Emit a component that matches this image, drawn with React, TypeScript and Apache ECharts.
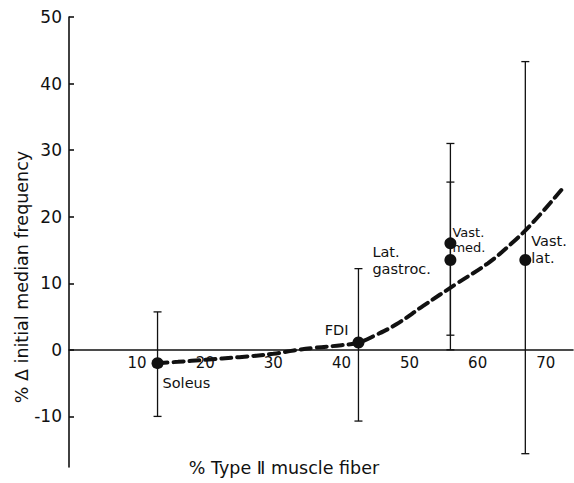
import React, { useEffect, useRef } from "react";
import * as echarts from "echarts";

const muscleNames = ["Soleus", "FDI", "Lat.\ngastroc.", "Vast.\nmed.", "Vast.\nlat."];
const fiberPct = [13, 42.5, 56, 56, 67];
const freqChange = [-2, 1.1, 13.5, 16, 13.5];
const errLow = [-10, -10.7, 2.2, 0, -15.6];
const errHigh = [5.7, 12.2, 25.2, 31, 43.3];

const curveX = [13, 16, 20, 25, 30, 33, 36, 40, 42.5, 45, 48, 52, 57, 61.5, 65, 68, 72.6];
const curveY = [-2, -1.8, -1.5, -1.1, -0.6, -0.1, 0.3, 0.7, 1.1, 2.2, 3.8, 6.6, 10, 13, 16, 19, 24.4];

const xTicks = [10, 20, 30, 40, 50, 60, 70];
const yTicks = [-10, 0, 10, 20, 30, 40, 50];

const labelLayout = [
  { align: "left", offset: [5, 20], lineHeight: 16, fontSize: 14.5 },
  { align: "right", offset: [-10, -13], lineHeight: 16, fontSize: 14.5 },
  { align: "left", offset: [-78, 1], lineHeight: 17, fontSize: 14.5 },
  { align: "left", offset: [2, -3], lineHeight: 15, fontSize: 13 },
  { align: "left", offset: [6, -10], lineHeight: 17, fontSize: 14.5 },
];

const FONT = "DejaVu Sans";
const INK = "#111";

export default function App() {
  const ref = useRef<HTMLDivElement>(null);
  useEffect(() => {
    if (!ref.current) return;
    const chart = echarts.init(ref.current, null, { renderer: "svg" });
    const option: any = {
      animation: false,
      backgroundColor: "#fff",
      grid: { left: 69, right: 1, top: 17, bottom: 16 },
      xAxis: {
        type: "value",
        min: 0,
        max: 74,
        offset: -117.2,
        splitLine: { show: false },
        axisLine: { onZero: false, lineStyle: { color: INK, width: 1.6 } },
        axisTick: { show: false },
        axisLabel: {
          customValues: xTicks,
          margin: 6,
          color: INK,
          fontFamily: FONT,
          fontSize: 15,
        },
      },
      yAxis: {
        type: "value",
        min: -17.6,
        max: 50,
        splitLine: { show: false },
        axisLine: { onZero: false, lineStyle: { color: INK, width: 1.6 } },
        axisTick: {
          customValues: yTicks,
          inside: true,
          length: 5,
          lineStyle: { color: INK, width: 1.6 },
        },
        axisLabel: {
          customValues: yTicks,
          margin: 7,
          color: INK,
          fontFamily: FONT,
          fontSize: 17,
        },
      },
      graphic: [
        {
          type: "text",
          x: 22,
          y: 277,
          rotation: Math.PI / 2,
          style: {
            text: "% Δ initial median frequency",
            fontFamily: FONT,
            fontSize: 17.5,
            fill: INK,
            align: "center",
            verticalAlign: "middle",
          },
        },
        {
          type: "text",
          x: 284,
          y: 468,
          style: {
            text: "% Type Ⅱ muscle fiber",
            fontFamily: FONT,
            fontSize: 17.5,
            fill: INK,
            align: "center",
            verticalAlign: "middle",
          },
        },
      ],
      series: [
        {
          type: "line",
          data: curveX.map((x, i) => [x, curveY[i]]),
          smooth: 0.4,
          showSymbol: false,
          symbol: "none",
          lineStyle: { color: INK, width: 4, type: [10, 6], cap: "round" },
          z: 2,
        },
        {
          type: "custom",
          data: fiberPct.map((x, i) => [x, errLow[i], errHigh[i]]),
          renderItem: (params: any, api: any) => {
            const x = api.value(0);
            const pLo = api.coord([x, api.value(1)]);
            const pHi = api.coord([x, api.value(2)]);
            const w = 4;
            const st = { stroke: INK, lineWidth: 1.3 };
            return {
              type: "group",
              children: [
                { type: "line", shape: { x1: pLo[0], y1: pLo[1], x2: pHi[0], y2: pHi[1] }, style: st },
                { type: "line", shape: { x1: pLo[0] - w, y1: pLo[1], x2: pLo[0] + w, y2: pLo[1] }, style: st },
                { type: "line", shape: { x1: pHi[0] - w, y1: pHi[1], x2: pHi[0] + w, y2: pHi[1] }, style: st },
              ],
            };
          },
          z: 3,
        },
        {
          type: "scatter",
          symbol: "circle",
          symbolSize: 12,
          itemStyle: { color: INK, opacity: 1 },
          data: fiberPct.map((x, i) => ({
            value: [x, freqChange[i]],
            label: {
              show: true,
              formatter: muscleNames[i],
              position: "inside",
              align: labelLayout[i].align,
              verticalAlign: "middle",
              offset: labelLayout[i].offset,
              lineHeight: labelLayout[i].lineHeight,
              color: INK,
              fontFamily: FONT,
              fontSize: labelLayout[i].fontSize,
            },
          })),
          z: 4,
        },
      ],
    };
    chart.setOption(option);
    return () => chart.dispose();
  }, []);
  return (
    <div
      ref={ref}
      style={{ position: "fixed", left: 0, top: 0, width: 574, height: 483 }}
    />
  );
}
